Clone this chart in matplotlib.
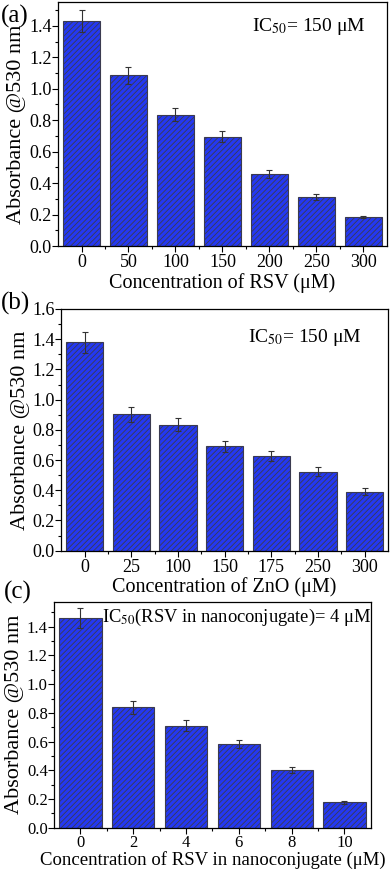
import numpy as np
import matplotlib.pyplot as plt
from matplotlib.ticker import MultipleLocator

plt.rcParams['font.family'] = ['Liberation Serif', 'DejaVu Serif']
plt.rcParams['mathtext.fontset'] = 'stix'
plt.rcParams['hatch.color'] = '#14207a'
plt.rcParams['hatch.linewidth'] = 0.6

# panel (a): RSV
rsv_labels = ['0', '50', '100', '150', '200', '250', '300']
rsv_abs = [1.43, 1.085, 0.835, 0.695, 0.458, 0.312, 0.184]
rsv_err = [0.07, 0.055, 0.043, 0.035, 0.024, 0.017, 0.008]

# panel (b): ZnO
zno_labels = ['0', '25', '100', '150', '175', '250', '300']
zno_abs = [1.38, 0.902, 0.834, 0.691, 0.628, 0.522, 0.39]
zno_err = [0.07, 0.048, 0.042, 0.038, 0.035, 0.029, 0.024]

# panel (c): RSV in nanoconjugate
nc_labels = ['0', '2', '4', '6', '8', '10']
nc_abs = [1.461, 0.84, 0.709, 0.583, 0.40, 0.176]
nc_err = [0.072, 0.045, 0.038, 0.031, 0.022, 0.009]

fig = plt.figure(figsize=(3.92, 8.74), dpi=100)


def panel(rect, labels, vals, errs, ylim, yticks, xlabel, xlsize, ticksize,
          note, note_xy, note_size, xlabelpad, xpad):
    ax = fig.add_axes(rect)
    x = np.arange(len(labels))
    ax.bar(x, vals, width=0.8, color='#2438f2', edgecolor='#3a3a50',
           linewidth=0.8, hatch='//////')
    ax.errorbar(x, vals, yerr=errs, fmt='none', ecolor='#333333',
                elinewidth=0.8, capsize=2.5, capthick=0.8)
    ax.set_xlim(-0.5, len(labels) - 0.5)
    ax.set_ylim(*ylim)
    ax.set_xticks(x)
    ax.set_xticklabels(labels)
    ax.set_yticks(yticks)
    ax.set_yticklabels(['%.1f' % t for t in yticks])
    ax.yaxis.set_minor_locator(MultipleLocator(0.1))
    ax.set_xticks(x[:-1] + 0.5, minor=True)
    ax.tick_params(axis='both', which='major', direction='out', length=4,
                   width=0.8, labelsize=ticksize)
    ax.tick_params(axis='both', which='minor', direction='out', length=2,
                   width=0.8)
    ax.tick_params(axis='x', pad=xpad)
    ax.tick_params(axis='y', pad=0.5)
    for s in ax.spines.values():
        s.set_linewidth(0.9)
    ax.set_xlabel(xlabel, fontsize=xlsize, labelpad=xlabelpad)
    ax.set_ylabel('Absorbance @530 nm', fontsize=16, labelpad=2)
    ax.text(note_xy[0], note_xy[1], note, transform=ax.transAxes,
            fontsize=note_size, va='center', ha='left')
    return ax


panel([0.148, 0.7185, 0.839, 0.279], rsv_labels, rsv_abs, rsv_err,
      (0, 1.55), np.arange(0, 1.41, 0.2), 'Concentration of RSV (μM)', 14.5, 13,
      r'IC$_{50}$= 150 μM', (0.59, 0.90), 14, 1, 2)
panel([0.156, 0.3699, 0.834, 0.2766], zno_labels, zno_abs, zno_err,
      (0, 1.6), np.arange(0, 1.61, 0.2), 'Concentration of ZnO (μM)', 14.5, 13,
      r'IC$_{50}$= 150 μM', (0.57, 0.88), 14, 1, 2)
panel([0.138, 0.053, 0.808, 0.2586], nc_labels, nc_abs, nc_err,
      (0, 1.575), np.arange(0, 1.41, 0.2), 'Concentration of RSV in nanoconjugate (μM)', 13.5, 12,
      r'IC$_{50}$(RSV in nanoconjugate)= 4 μM', (0.151, 0.93), 13.3, 0, 1)

fig.text(0.003, 1 - 16 / 874, '(a)', fontsize=18, va='center', ha='left')
fig.text(0.003, 1 - 303 / 874, '(b)', fontsize=18, va='center', ha='left')
fig.text(0.01, 1 - 592 / 874, '(c)', fontsize=18, va='center', ha='left')

fig.savefig('out.png', dpi=100)
